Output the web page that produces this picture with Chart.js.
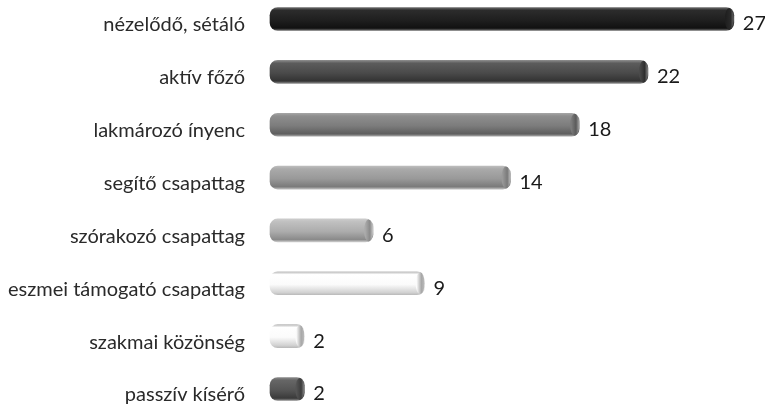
<!DOCTYPE html>
<html>
<head>
<meta charset="utf-8">
<script src="https://cdn.jsdelivr.net/npm/chart.js@4"></script>
<style>
  html, body { margin: 0; padding: 0; background: #fff; }
  #wrap { width: 765px; height: 409px; }
</style>
</head>
<body>
<div id="wrap"><canvas id="chart"></canvas></div>
<script>
const categories = [
  'nézelődő, sétáló',
  'aktív főző',
  'lakmározó ínyenc',
  'segítő csapattag',
  'szórakozó csapattag',
  'eszmei támogató csapattag',
  'szakmai közönség',
  'passzív kísérő'
];
const values = [27, 22, 18, 14, 6, 9, 2, 2];

// cylinder shading per bar: rim, highlight, body, shadow, end cap
const shades = [
  ['#6a6a6a', '#2c2c2c', '#1f1f1f', '#111111', '#2a2a2a'],
  ['#8a8a8a', '#5c5c5c', '#4a4a4a', '#333333', '#2e2e2e'],
  ['#a5a5a5', '#8e8e8e', '#7c7c7c', '#5e5e5e', '#5a5a5a'],
  ['#bdbdbd', '#aaaaaa', '#999999', '#7a7a7a', '#7a7a7a'],
  ['#cccccc', '#c0c0c0', '#acacac', '#8a8a8a', '#8a8a8a'],
  ['#bbbbbb', '#ffffff', '#fbfbfb', '#d2d2d2', '#a8a8a8'],
  ['#bbbbbb', '#ffffff', '#fbfbfb', '#d2d2d2', '#a8a8a8'],
  ['#888888', '#666666', '#555555', '#3a3a3a', '#3c3c3c']
];
const FONT = 'Lato, "Open Sans", sans-serif';

function barFill(context) {
  const chart = context.chart;
  const s = shades[context.dataIndex];
  const yScale = chart.scales.y;
  if (!chart.chartArea || !yScale) return s[2];
  const y = yScale.getPixelForValue(context.dataIndex);
  const g = chart.ctx.createLinearGradient(0, y - 11.5, 0, y + 11.5);
  g.addColorStop(0, s[0]);
  g.addColorStop(0.12, s[1]);
  g.addColorStop(0.55, s[2]);
  g.addColorStop(0.9, s[3]);
  g.addColorStop(1, s[0]);
  return g;
}

const capsAndValues = {
  id: 'capsAndValues',
  afterDatasetsDraw(chart) {
    const ctx = chart.ctx;
    const meta = chart.getDatasetMeta(0);
    meta.data.forEach((bar, i) => {
      const h = bar.height;
      const s = shades[i];
      // end cap of the cylinder
      ctx.save();
      const g = ctx.createLinearGradient(bar.x - 8, 0, bar.x, 0);
      g.addColorStop(0, s[2]);
      g.addColorStop(0.6, s[4]);
      g.addColorStop(1, s[0]);
      ctx.fillStyle = g;
      ctx.beginPath();
      ctx.ellipse(bar.x - 4.5, bar.y, 4.5, h / 2 - 0.5, 0, 0, Math.PI * 2);
      ctx.fill();
      ctx.restore();
      // value label
      ctx.save();
      ctx.fillStyle = '#1a1a1a';
      ctx.font = '20px ' + FONT;
      ctx.textAlign = 'left';
      ctx.textBaseline = 'middle';
      ctx.fillText(String(values[i]), bar.x + 9, bar.y + 5);
      ctx.restore();
    });
  }
};

new Chart(document.getElementById('chart'), {
  type: 'bar',
  data: {
    labels: categories,
    datasets: [{
      data: values,
      backgroundColor: barFill,
      borderWidth: 0,
      borderRadius: 8,
      borderSkipped: false,
      barThickness: 23,
      clip: false
    }]
  },
  options: {
    indexAxis: 'y',
    responsive: true,
    maintainAspectRatio: false,
    animation: false,
    layout: { padding: { top: 19, bottom: 20, left: 0, right: 14 } },
    plugins: {
      legend: { display: false },
      tooltip: { enabled: false }
    },
    scales: {
      x: {
        display: false,
        min: 0,
        max: 28
      },
      y: {
        offset: false,
        grid: { display: false, drawTicks: false },
        border: { display: false },
        ticks: {
          color: '#2a2a2a',
          font: { family: FONT, size: 20 },
          padding: 25,
          labelOffset: 6
        },
        afterFit(scale) {
          scale.width = 270;
          scale.paddingTop = 0;
          scale.paddingBottom = 0;
        }
      }
    }
  },
  plugins: [capsAndValues]
});
</script>
</body>
</html>
